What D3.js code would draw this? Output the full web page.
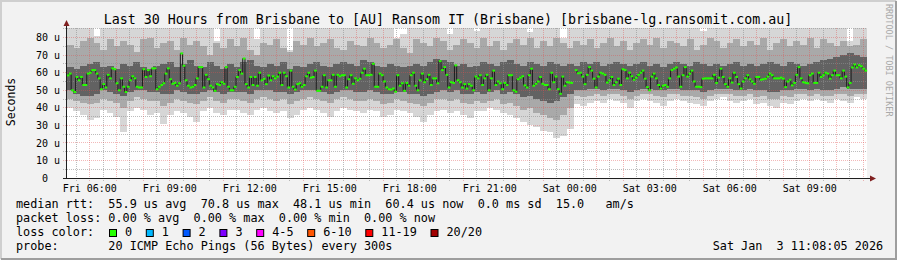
<!DOCTYPE html>
<html>
<head>
<meta charset="utf-8">
<title>Smokeping brisbane-lg</title>
<script src="https://cdn.jsdelivr.net/npm/d3@7"></script>
<style>
body { margin: 0; background: #f2f2f2; }
svg { display: block; }
text { font-family: 'DejaVu Sans Mono', monospace; white-space: pre; fill: #000; }
</style>
</head>
<body>
<script>
// median rtt, one value per 5 min step (us), null = no data
var medianRtt = [
 58.5,59.5,50,49,57.6,55.7,57.6,53,53,59.5, 60,61.5,61.5,59.5,56.8,50.6,53.5,51.6,58.8,56.8,
 62.5,62,54,50,56.8,52,49,52,55.7,58, 56.8,52,51.6,51.6,62,57.6,61.5,58,62.5,62.5,
 50.6,52,53,54,59.5,62.5,56.3,53.7,54.2,52.6, 54,71,64,55.7,52.6,51.6,52,53,56.8,63.2,
 63.2,51.6,58.8,56.3,52.6,51.6,49.7,53.5,53,54.6, 53.7,63.2,52,50,
 50,52,57.6,61.5,59.5,68.1,53.5,51.6, 57.6,53,57.6,52.6,60,55.7,56.5,53.5,58.4,55.7,
 58,56.8,57.8,60,53,60,58,51.6,61.2,52, 50.4,53.5,54,52,53,58,60,57.2,57.6,61.2,
 49.7,49.7,52,58.6,51.6,55.7,55.7,58.8,52,58.8, 58,58.6,58.6,51.6,56.3,58.6,53.7,56.8,55.7,56.6,
 60,62.3,58.6,58.6,58.8,65.1,52,52,59.5,58.6, 55,51.6,50.6,50.4,51,
 49.2,58.6,52.6,54,49.7,54.2,52.6,58.6,60,52.6, 50,55.7,59.5,54.6,56.3,58.8,53,56.8,56.8,54,
 66.6,61.5,63.2,58.8,51.6,54.6,54.2,64.2,55.7,54.6, 51.6,53.5,51,53.5,52.6,50,57.8,56.8,58.6,53,
 56.8,58.8,50,56.8,61.2,53,55,54,50.6,54.2, 53,58.6,58.6,50,49.2,56.3,57.2,58,52.8,51.6,
 58.6,62.3,52.6,53.7,55,57.6,53.7,53,53,50.6, 60,54.6,57.8,50.6,48,57.8,
 52.6,54.6,54.4,54.2,null,61.5,59.7,60,57.8,53.5,58.8,
 63.2,61.2,56.6,51.6,57.8,60,59.5,58.8,54.4,55.7, 57.6,53,54.6,56.6,53,62,61.5,56.8,60,58,
 56,57.2,58.8,60,61.2,56.6,51.8,50,57.8,59.5, 56.8,53,51,52.6,53,52,56.8,61.5,62.3,63,
 57.8,52,58.6,63.2,57.8,59.5,61.2,55,52,52, 51.8,56.6,56.8,56.8,56.8,56.8,58.8,54.2,57.2,62.3,
 57.6,53.5,52,
 56.8,54.4,60,57.6,53.5,51,55,56.8,58.6,56.3, 55,53.7,57.6,57.6,56,56.3,56.6,57.8,59.5,58.6,
 56.8,56.8,56.8,57.2,56.6,51.8,55,56,52.8,54.2, 58.8,63.2,56.8,54.6,54.2,54,58.6,59.5,54.2,54.2,
 60,57.6,58.6,60,59.5,56.6,58.6,61.2,58.6,58.6, 56.8,61.2,57.8,51.6,54.2,63,64.7,63,64.3,63.7,
 62.3,61.2
];

// smoke, one value per 15 min block
var smokeMin = [
 40,38,36,33,34,39,37,35,26,38,40,39,36,37,31,36,38,37,35,32,38,40,37,36,39,
 39,37,36,39,40,38,37,38,34,36,39,40,39,37,35,38,40,39,38,37,39,38,35,36,39,
 38,37,35,32,36,38,39,37,38,36,34,38,38,40,39,37,36,34,32,30,29,27,26,23,24,
 28,42,41,43,44,43,45,44,43,40,44,45,44,43,41,44,45,44,43,42,41,44,45,46,44,
 43,44,45,42,43,41,40,43,42,44,45,44,45,44,43,45,44,43,46,45
];
var smokeMax = [
 90,90,90,90,81,90,90,90,90,90,90,90,90,90,90,90,90,90,90,90,90,90,78,90,90,
 90,90,90,79,90,90,90,90,73,90,90,90,90,90,90,90,90,90,90,90,90,90,90,90,80,
 82,90,90,90,90,90,90,82,90,90,90,84,90,90,90,90,90,90,90,83,90,90,90,90,80,
 90,90,90,90,90,90,90,90,90,90,90,90,90,90,90,90,90,90,90,90,84,90,90,90,90,
 90,90,90,90,90,90,90,90,90,90,90,90,90,90,90,90,90,78,90,90
];
var smokeLo = [
 45,44,43,42,43,45,44,43,40,44,46,45,44,44,41,43,45,44,43,42,44,46,44,43,45,
 45,44,43,45,46,45,44,45,42,44,45,46,45,44,43,45,46,45,44,44,45,44,42,43,45,
 44,43,42,41,43,45,45,44,45,43,42,44,43,44,45,42,43,41,39,40,37,36,34,33,36,
 40,47,46,47,48,47,48,48,47,45,47,48,48,47,46,48,48,47,47,46,45,47,48,48,48,
 47,47,48,46,47,45,45,47,46,48,48,47,48,47,47,48,48,47,48,48
];
var smokeHi = [
 76,74,78,80,77,73,79,75,78,76,72,79,80,74,77,78,73,80,76,78,75,70,77,74,79,
 75,80,73,70,77,76,79,74,72,78,76,80,75,77,79,74,73,78,76,75,80,77,74,76,79,
 74,71,79,77,75,80,78,73,76,79,77,74,80,75,78,73,77,79,76,80,74,78,75,80,77,
 74,78,76,79,74,77,80,75,78,73,77,79,76,80,74,78,77,75,79,73,76,80,78,74,77,
 79,75,78,76,80,73,77,79,75,78,76,80,74,79,77,75,78,75,76,79
];
var coreLo = [
 50,48,47,47,48,50,49,48,47,49,50,50,49,49,48,48,50,49,48,48,49,50,49,48,49,
 49,49,48,50,50,50,49,49,48,49,50,50,50,49,48,49,50,50,49,49,50,49,48,48,49,
 49,48,48,47,48,49,50,49,50,48,48,49,48,49,50,48,49,48,46,47,45,44,43,44,46,
 48,50,50,51,51,50,51,51,50,49,50,51,51,50,50,51,51,50,50,50,49,50,51,51,51,
 50,50,51,50,50,49,49,50,50,51,51,50,51,50,50,51,52,51,51,51
];
var coreHi = [
 63,62,64,65,66,63,64,62,65,64,66,63,62,64,65,66,63,65,67,64,63,66,64,62,65,
 63,66,67,64,63,65,64,66,62,64,63,65,66,64,63,65,66,65,64,67,66,64,63,65,64,
 63,64,65,64,66,68,67,66,64,65,63,64,66,65,64,66,67,65,64,66,65,64,66,65,64,
 65,64,66,65,66,64,65,66,65,64,65,66,64,65,63,65,66,65,64,66,65,64,65,64,65,
 66,64,65,64,65,66,65,64,66,65,64,65,66,67,68,69,70,71,70,69
];

var yTickValues = [0, 10, 20, 30, 40, 50, 60, 70, 80];
var yTickLabels = ["0  ", "10 u", "20 u", "30 u", "40 u", "50 u", "60 u", "70 u", "80 u"];
var lossLabels = ["0", "1", "2", "3", "4-5", "6-10", "11-19", "20/20"];
var lossColors = ["#26ff00", "#00b8ff", "#0059ff", "#7e00ff", "#ff00ff", "#ff5500", "#ff0000", "#a10000"];
var statLines = [
 "median rtt:  55.9 us avg  70.8 us max  48.1 us min  60.4 us now  0.0 ms sd  15.0   am/s",
 "packet loss: 0.00 % avg  0.00 % max  0.00 % min  0.00 % now",
 "loss color:",
 "probe:       20 ICMP Echo Pings (56 Bytes) every 300s"
];

var W = 897, H = 260;
var svg = d3.select("body").append("svg").attr("width", W).attr("height", H);

var t0 = new Date(Date.UTC(2026, 0, 2, 5, 8, 5));
var t1 = new Date(Date.UTC(2026, 0, 3, 11, 8, 5));
var x = d3.scaleUtc().domain([t0, t1]).range([66.7, 866.7]);
var y = d3.scaleLinear().domain([0, 85.5]).range([178, 28]);
function px(v) { return Math.floor(v) + 0.5; }

// background + frame shading
svg.append("rect").attr("width", W).attr("height", H).attr("fill", "#f2f2f2");
svg.append("path").attr("d", "M0,1H896M1,0V259").attr("stroke", "#cfcfcf").attr("stroke-width", 2);
svg.append("path").attr("d", "M1,259H897M896,1V260").attr("stroke", "#9e9e9e").attr("stroke-width", 2);

// canvas
var cx0 = Math.floor(x(t0)), cx1 = Math.ceil(x(t1));
svg.append("rect").attr("x", cx0).attr("y", 28).attr("width", cx1 - cx0).attr("height", 150).attr("fill", "#fff");
svg.append("clipPath").attr("id", "plotClip").append("rect")
 .attr("x", cx0).attr("y", 28).attr("width", cx1 - cx0).attr("height", 150);

// SMOKE - three gray bands per block, lighter outside
var nb = smokeMin.length, blockMs = (t1 - t0) / nb;
var blocks = d3.range(nb).map(function(k) {
 return {k: k, a: new Date(+t0 + k * blockMs), b: new Date(+t0 + (k + 1) * blockMs)};
});
var bands = [[smokeMin, smokeMax, "#d6d6d6"], [smokeLo, smokeHi, "#a9a9a9"], [coreLo, coreHi, "#626262"]];
var smokeG = svg.append("g").attr("clip-path", "url(#plotClip)");
bands.forEach(function(bd) {
 smokeG.append("g").selectAll("rect").data(blocks).enter().append("rect")
  .attr("x", function(d) { return x(d.a); })
  .attr("width", function(d) { return x(d.b) - x(d.a) + 0.3; })
  .attr("y", function(d) { return y(bd[1][d.k]); })
  .attr("height", function(d) { return y(bd[0][d.k]) - y(bd[1][d.k]); })
  .attr("fill", bd[2])
  .attr("shape-rendering", "crispEdges");
});

// GRID (drawn over the smoke like rrdtool does), 1 on / 1 off
var minorCol = "rgba(143,143,143,0.6)", majorCol = "rgba(222,79,79,0.4)";
function hLine(g, vals, col) {
 g.selectAll(null).data(vals).enter().append("line")
  .attr("x1", 63).attr("x2", cx1)
  .attr("y1", function(d) { return px(y(d)); }).attr("y2", function(d) { return px(y(d)); })
  .attr("stroke", col).attr("stroke-dasharray", "1,1");
}
function vLine(g, vals, col) {
 g.selectAll(null).data(vals).enter().append("line")
  .attr("x1", function(d) { return px(x(d)); }).attr("x2", function(d) { return px(x(d)); })
  .attr("y1", 28).attr("y2", 181)
  .attr("stroke", col).attr("stroke-dasharray", "1,1");
}
var gridG = svg.append("g").attr("stroke-width", 1);
hLine(gridG, d3.range(5, 86, 10), minorCol);
vLine(gridG, d3.utcMinute.every(30).range(t0, t1).filter(function(d) { return d.getUTCMinutes() == 30; }), minorCol);
hLine(gridG, yTickValues.slice(1), majorCol);
vLine(gridG, d3.utcHour.range(t0, t1), majorCol);

// MEDIAN
var nm = medianRtt.length, stepMs = (t1 - t0) / nm;
var med = medianRtt.map(function(v, i) {
 return {v: v, a: new Date(+t0 + i * stepMs), b: new Date(+t0 + (i + 1) * stepMs)};
});
var medLine = d3.line()
 .defined(function(d) { return d.v != null; })
 .x(function(d) { return (x(d.a) + x(d.b)) / 2; })
 .y(function(d) { return y(d.v); })
 .curve(d3.curveStep);
svg.append("path").attr("d", medLine(med)).attr("fill", "none").attr("stroke", "#1c1c1c").attr("stroke-width", 1);
svg.append("g").selectAll("rect").data(med.filter(function(d) { return d.v != null; })).enter().append("rect")
 .attr("x", function(d) { return x(d.a); })
 .attr("width", function(d) { return x(d.b) - x(d.a) + 0.5; })
 .attr("y", function(d) { return y(d.v) - 1; })
 .attr("height", 2)
 .attr("fill", lossColors[0]);

// AXES
svg.append("line").attr("x1", px(x(t0))).attr("x2", px(x(t0))).attr("y1", 25).attr("y2", 179)
 .attr("stroke", "#1f1f1f").attr("shape-rendering", "crispEdges");
svg.append("line").attr("x1", 63).attr("x2", 871).attr("y1", px(y(0))).attr("y2", px(y(0)))
 .attr("stroke", "#1f1f1f").attr("shape-rendering", "crispEdges");
svg.append("path").attr("d", "M63.5,26L69.5,26L66.5,20Z").attr("fill", "#802020");
svg.append("path").attr("d", "M870,175.5L870,181.5L876,178.5Z").attr("fill", "#802020");

// y labels
svg.append("g").selectAll("text").data(yTickValues).enter().append("text")
 .attr("x", 60).attr("y", function(d) { return y(d) + 3.6; })
 .attr("text-anchor", "end").attr("font-size", "10px")
 .text(function(d, i) { return yTickLabels[i]; });

// x labels
var fmt = d3.utcFormat("%a %H:%M");
svg.append("g").selectAll("text").data(d3.utcHour.every(3).range(t0, t1)).enter().append("text")
 .attr("x", function(d) { return x(d); }).attr("y", 192)
 .attr("text-anchor", "middle").attr("font-size", "10px")
 .text(fmt);

// title + axis title + watermark
svg.append("text").attr("x", 448).attr("y", 24).attr("text-anchor", "middle").attr("font-size", "13.3px")
 .text("Last 30 Hours from Brisbane to [AU] Ransom IT (Brisbane) [brisbane-lg.ransomit.com.au]");
svg.append("text").attr("transform", "translate(15,102) rotate(-90)").attr("text-anchor", "middle")
 .attr("font-size", "11.5px").text("Seconds");
svg.append("text").attr("transform", "translate(886,4) rotate(90)").attr("font-size", "8.5px")
 .style("fill", "#a9a9a9").text("RRDTOOL / TOBI OETIKER");

// LEGEND
var charW = 7.1;
statLines.forEach(function(s, i) {
 svg.append("text").attr("x", 16).attr("y", 208.3 + i * 13.9).attr("font-size", "11.8px").text(s);
});
var cur = 109;
lossLabels.forEach(function(l, i) {
 svg.append("rect").attr("x", cur + 0.5).attr("y", 229.5).attr("width", 7).attr("height", 7)
  .attr("fill", lossColors[i]).attr("stroke", "#000").attr("stroke-width", 1);
 svg.append("text").attr("x", cur + 16).attr("y", 236.1).attr("font-size", "11.8px").text(l);
 cur = cur + 16 + l.length * charW + 13.7;
});
svg.append("text").attr("x", 712.7).attr("y", 250).attr("font-size", "11.8px").text("Sat Jan  3 11:08:05 2026");
</script>
</body>
</html>
